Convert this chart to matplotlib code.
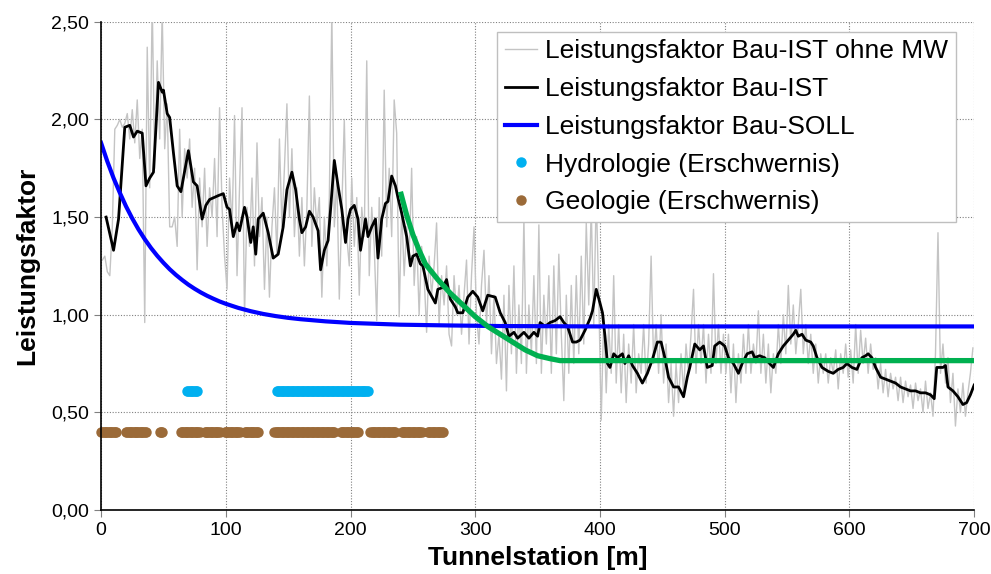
import numpy as np
import matplotlib
matplotlib.use("Agg")
import matplotlib.pyplot as plt

plt.rcParams['font.family'] = ['Liberation Sans', 'DejaVu Sans']

# Leistungsfaktor Bau-IST ohne MW (single values every 2 m, from 1 m)
roh_start = 1
roh_step = 2
roh_value = [
    1.28, 1.30, 1.22, 1.20, 1.45, 1.95, 1.97, 2.00, 1.96, 1.98,   # 1..19
    2.03, 1.90, 2.05, 1.88, 2.10, 1.80, 1.95, 0.96, 2.37, 1.65,   # 21..39
    2.60, 1.75, 2.30, 1.90, 2.55, 1.85, 2.08, 1.45, 1.45, 1.50,   # 41..59
    1.35, 1.95, 1.50, 1.85, 1.70, 1.90, 1.55, 1.75, 1.23, 1.70,   # 61..79
    1.45, 1.75, 1.35, 1.65, 1.50, 1.80, 1.40, 2.06, 1.55, 1.30,   # 81..99
    1.13, 1.70, 1.45, 2.02, 1.20, 1.65, 2.06, 0.99, 1.55, 1.35,   # 101..119
    1.70, 1.25, 1.88, 1.40, 1.60, 1.13, 1.50, 1.09, 1.45, 1.65,   # 121..139
    1.30, 1.90, 1.45, 1.75, 2.08, 1.50, 1.85, 1.40, 1.65, 1.30,   # 141..159
    1.60, 1.25, 1.55, 2.12, 1.35, 1.65, 1.45, 1.60, 1.09, 1.50,   # 161..179
    1.25, 1.60, 2.55, 1.45, 1.70, 1.08, 1.55, 2.00, 1.40, 1.25,   # 181..199
    1.70, 1.35, 1.60, 1.10, 1.55, 1.40, 2.30, 1.20, 1.55, 1.35,   # 201..219
    0.97, 1.60, 1.30, 2.15, 1.45, 1.75, 1.40, 2.10, 1.93, 0.99,   # 221..239
    1.55, 1.20, 1.45, 1.30, 1.75, 1.15, 1.40, 1.00, 1.35, 1.20,   # 241..259
    0.91, 1.30, 1.10, 1.25, 1.47, 0.95, 1.20, 1.05, 1.25, 0.90,   # 261..279
    0.84, 1.20, 1.00, 1.15, 0.90, 1.10, 1.28, 0.85, 1.20, 1.45,   # 281..299
    1.00, 0.85, 1.15, 1.33, 0.95, 1.20, 0.80, 1.10, 0.75, 0.90,   # 301..319
    0.67, 1.10, 0.61, 1.15, 0.80, 1.25, 0.70, 1.05, 0.75, 1.50,   # 321..339
    0.70, 1.05, 0.80, 1.20, 0.75, 1.46, 0.70, 1.10, 0.85, 1.20,   # 341..359
    0.70, 1.25, 0.80, 1.31, 0.90, 0.56, 1.10, 0.70, 1.15, 0.75,   # 361..379
    1.20, 0.80, 1.30, 0.85, 1.47, 1.05, 1.55, 0.95, 1.62, 1.10,   # 381..399
    0.46, 1.00, 0.60, 0.95, 0.70, 1.20, 0.65, 0.95, 0.60, 0.90,   # 401..419
    0.55, 0.85, 0.65, 0.95, 0.60, 0.80, 0.70, 0.95, 0.65, 0.85,   # 421..439
    1.30, 0.75, 0.95, 0.70, 1.00, 0.65, 0.85, 0.55, 0.75, 0.48,   # 441..459
    0.75, 0.55, 0.80, 0.60, 0.85, 0.70, 0.90, 1.13, 0.70, 0.95,   # 461..479
    0.75, 0.95, 0.65, 0.90, 0.70, 1.21, 0.75, 0.95, 0.70, 0.90,   # 481..499
    0.70, 0.90, 0.60, 0.85, 0.55, 0.80, 0.65, 0.90, 0.70, 0.95,   # 501..519
    0.70, 0.85, 0.75, 1.02, 0.70, 0.90, 0.65, 0.85, 0.60, 0.80,   # 521..539
    0.70, 0.95, 0.75, 1.00, 0.80, 1.15, 0.85, 1.05, 0.80, 0.95,   # 541..559
    1.13, 0.80, 0.95, 0.75, 0.90, 0.70, 0.85, 0.65, 0.80, 0.70,   # 561..579
    0.80, 0.65, 0.78, 0.70, 0.82, 0.62, 0.80, 0.70, 0.85, 0.68,   # 581..599
    0.82, 0.65, 0.95, 0.70, 0.92, 0.75, 0.88, 0.70, 0.85, 0.72,   # 601..619
    0.78, 0.62, 0.75, 0.60, 0.72, 0.58, 0.70, 0.62, 0.68, 0.56,   # 621..639
    0.68, 0.55, 0.66, 0.58, 0.64, 0.52, 0.65, 0.56, 0.62, 0.50,   # 641..659
    0.66, 0.52, 0.60, 0.48, 0.80, 1.42, 0.70, 0.85, 0.65, 0.78,   # 661..679
    0.55, 0.70, 0.43, 0.62, 0.50, 0.65, 0.48, 0.60, 0.70, 0.83,   # 681..699
]

# Leistungsfaktor Bau-IST (gleitender Mittelwert)
ist_station = [
    4, 10, 14, 19, 23, 26, 29, 33, 36, 39, 42, 46, 49, 50, 53, 55, 58, 61, 64, 70,
    74, 77, 81, 84, 87, 94, 98, 101, 103, 106, 109, 111, 115, 117, 120, 122, 124, 126, 130, 134,
    138, 142, 146, 149, 153, 156, 159, 161, 164, 167, 170, 174, 176, 179, 182, 184, 187, 190, 193, 196,
    198, 200, 203, 206, 208, 212, 214, 217, 220, 222, 225, 228, 230, 233, 236, 238, 241, 245, 248, 250,
    253, 256, 258, 262, 268, 270, 274, 277, 280, 284, 286, 290, 294, 298, 302, 306, 310, 316, 320, 324,
    327, 331, 334, 339, 343, 347, 350, 352, 356, 360, 364, 368, 371, 374, 378, 381, 384, 388, 392, 394,
    397, 400, 402, 404, 406, 408, 411, 414, 418, 420, 423, 426, 430, 434, 438, 442, 446, 449, 452, 455,
    459, 463, 467, 470, 472, 476, 480, 483, 486, 490, 492, 496, 500, 503, 507, 511, 514, 518, 522, 524,
    528, 532, 536, 539, 543, 547, 551, 555, 557, 559, 562, 565, 569, 571, 574, 578, 583, 587, 591, 595,
    598, 602, 606, 610, 613, 615, 618, 621, 625, 629, 633, 637, 641, 645, 649, 653, 657, 661, 665, 668,
    670, 673, 675, 677, 679, 683, 687, 691, 694, 697, 700,
]
ist_value = [
    1.50, 1.33, 1.49, 1.96, 1.97, 1.91, 1.94, 1.93, 1.66, 1.70, 1.73, 2.19, 2.14, 2.15, 2.03, 2.01, 1.83, 1.66, 1.63, 1.84,
    1.68, 1.66, 1.49, 1.56, 1.59, 1.61, 1.62, 1.55, 1.54, 1.40, 1.47, 1.43, 1.55, 1.50, 1.37, 1.45, 1.31, 1.49, 1.52, 1.42,
    1.29, 1.31, 1.45, 1.64, 1.73, 1.64, 1.49, 1.42, 1.45, 1.53, 1.50, 1.43, 1.23, 1.33, 1.38, 1.54, 1.79, 1.66, 1.54, 1.37,
    1.49, 1.54, 1.56, 1.49, 1.33, 1.49, 1.40, 1.45, 1.49, 1.29, 1.49, 1.57, 1.58, 1.71, 1.66, 1.60, 1.52, 1.40, 1.25, 1.30,
    1.31, 1.26, 1.25, 1.13, 1.06, 1.13, 1.14, 1.18, 1.08, 1.04, 1.01, 1.01, 1.09, 1.12, 1.09, 1.02, 1.10, 1.09, 1.01, 0.96,
    0.89, 0.91, 0.88, 0.91, 0.88, 0.91, 0.89, 0.96, 0.94, 0.96, 0.97, 0.99, 0.96, 0.94, 0.86, 0.86, 0.87, 0.92, 0.98, 1.02,
    1.13, 1.06, 1.01, 0.89, 0.75, 0.73, 0.80, 0.78, 0.80, 0.75, 0.79, 0.74, 0.70, 0.65, 0.70, 0.77, 0.86, 0.86, 0.78, 0.68,
    0.63, 0.63, 0.58, 0.68, 0.73, 0.85, 0.82, 0.84, 0.73, 0.74, 0.84, 0.86, 0.84, 0.78, 0.75, 0.70, 0.75, 0.80, 0.81, 0.78,
    0.79, 0.78, 0.75, 0.73, 0.80, 0.84, 0.87, 0.90, 0.92, 0.89, 0.90, 0.87, 0.86, 0.84, 0.78, 0.73, 0.71, 0.70, 0.72, 0.73,
    0.75, 0.73, 0.72, 0.78, 0.79, 0.80, 0.78, 0.73, 0.68, 0.67, 0.66, 0.65, 0.63, 0.62, 0.61, 0.61, 0.60, 0.60, 0.59, 0.57,
    0.73, 0.73, 0.73, 0.74, 0.63, 0.61, 0.58, 0.54, 0.55, 0.59, 0.64,
]

# Leistungsfaktor Bau-SOLL
soll_station = [0, 5, 10, 15, 20, 25, 30, 35, 40, 45, 50, 55, 60, 65, 70, 75, 80, 85, 90, 95, 100,
                110, 120, 130, 140, 150, 160, 180, 200, 240, 280, 320, 400, 700]
soll_value = [1.88, 1.785, 1.70, 1.625, 1.555, 1.493, 1.437, 1.387, 1.342, 1.302, 1.266, 1.233, 1.204,
              1.178, 1.154, 1.133, 1.114, 1.097, 1.082, 1.068, 1.056,
              1.035, 1.018, 1.004, 0.993, 0.984, 0.977, 0.966, 0.958, 0.949, 0.945, 0.942, 0.94, 0.94]

# zweite SOLL-Kurve (gruen)
soll2_station = [240, 245, 250, 255, 260, 270, 280, 290, 300, 310, 320, 330, 340, 350, 360, 368, 700]
soll2_value = [1.63, 1.51, 1.41, 1.33, 1.26, 1.18, 1.11, 1.05, 0.99, 0.94, 0.90, 0.86, 0.82, 0.79, 0.775, 0.765, 0.765]

# Erschwernis-Bereiche (von, bis) in m
hydro_level = 0.61
hydro_ranges = [(69, 77), (141, 214)]
geo_level = 0.40
geo_ranges = [(0, 12), (20, 36), (47, 49), (64, 79), (83, 95), (99, 111), (115, 126),
              (139, 187), (192, 206), (216, 236), (241, 257), (262, 274)]

x_ticks = [0, 100, 200, 300, 400, 500, 600, 700]
y_ticks = [0.0, 0.5, 1.0, 1.5, 2.0, 2.5]
y_ticklabels = ['0,00', '0,50', '1,00', '1,50', '2,00', '2,50']


def expand(ranges):
    return np.concatenate([np.arange(a, b + 1) for a, b in ranges])


fig = plt.figure(figsize=(9.91, 5.74), dpi=100)
ax = fig.add_axes([0.102, 0.1115, 0.881, 0.8505])

roh_station = roh_start + roh_step * np.arange(len(roh_value))
ax.plot(roh_station, roh_value, color='#c4c4c4', lw=1.0,
        label='Leistungsfaktor Bau-IST ohne MW')
ax.plot(ist_station, ist_value, color='black', lw=2.0,
        label='Leistungsfaktor Bau-IST')
ax.plot(soll_station, soll_value, color='#0000ff', lw=3.0,
        label='Leistungsfaktor Bau-SOLL')
ax.plot(soll2_station, soll2_value, color='#00b050', lw=3.8, solid_capstyle='butt')

hx = expand(hydro_ranges)
gx = expand(geo_ranges)
ax.plot(hx, np.full(len(hx), hydro_level), 'o', color='#00b0f0', ms=6.5, ls='none',
        clip_on=False, label='Hydrologie (Erschwernis)')
ax.plot(gx, np.full(len(gx), geo_level), 'o', color='#9b6a38', ms=6.5, ls='none',
        clip_on=False, label='Geologie (Erschwernis)')

ax.set_xlim(0, 700)
ax.set_ylim(0, 2.5)
ax.set_xticks(x_ticks)
ax.set_yticks(y_ticks)
ax.set_yticklabels(y_ticklabels)
ax.tick_params(labelsize=14, direction='out', length=5, width=0.8, color='#808080')
ax.grid(True, color='#808080', lw=0.8, linestyle=(0, (1, 1.5)))
for s in ['top', 'right']:
    ax.spines[s].set_visible(False)
for s in ['left', 'bottom']:
    ax.spines[s].set_linewidth(1.2)

ax.set_xlabel('Tunnelstation [m]', fontsize=19, fontweight='bold', labelpad=5)
ax.set_ylabel('Leistungsfaktor', fontsize=19, fontweight='bold', labelpad=9)

leg = ax.legend(loc='upper right', bbox_to_anchor=(0.979, 0.980), borderaxespad=0,
                fontsize=19, handlelength=1.2, handletextpad=0.3, labelspacing=0.52,
                borderpad=0.3, numpoints=1, fancybox=False, framealpha=1)
leg.get_frame().set_edgecolor('#bfbfbf')
leg.get_frame().set_linewidth(1.0)

fig.savefig('out.png', dpi=100)
